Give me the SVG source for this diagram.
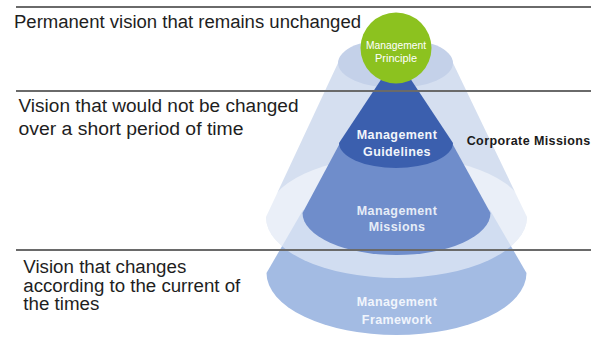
<svg xmlns="http://www.w3.org/2000/svg" width="595" height="337" viewBox="0 0 595 337">
<style>
.lbl{font-family:"Liberation Sans",Arial,sans-serif;font-size:18px;fill:#1e1e1e}
.in{font-family:"Liberation Sans",Arial,sans-serif;font-size:12.5px;font-weight:bold;letter-spacing:0.4px;text-anchor:middle}
.sep{stroke:#6a6a6a;stroke-width:2;fill:none}
</style>
<rect width="595" height="337" fill="#ffffff"/>
<g id="corporate-missions">
  <path d="M338,63 L266,217 A130.5 61 0 0 0 527,217 L453,63 Z" fill="#d5dff0"/>
  <ellipse cx="395.5" cy="63" rx="57.5" ry="25" fill="#c4d1e9"/>
</g>
<g id="framework">
  <path d="M303,210 L266.5,273 A130 62 0 0 0 526.5,273 L490,210 Z" fill="#a3bbe3"/>
</g>
<g id="corporate-missions-base">
  <ellipse cx="396.5" cy="217" rx="130.5" ry="61" fill="#ffffff" fill-opacity="0.5"/>
</g>
<g id="missions">
  <path d="M340,143 L302.5,213 A94 42 0 0 0 490.5,213 L452,143 Z" fill="#6f8dcb"/>
</g>
<g id="guidelines">
  <path d="M396,57 L339,143 A57 25 0 0 0 453,143 Z" fill="#3b5fae"/>
</g>
<g id="principle">
  <circle cx="396" cy="48" r="35.5" fill="#8cc21f"/>
  <text x="396" y="48.5" font-family="'Liberation Sans',Arial,sans-serif" font-size="11.5" fill="#ffffff" text-anchor="middle" textLength="60" lengthAdjust="spacingAndGlyphs">Management</text>
  <text x="396" y="62" font-family="'Liberation Sans',Arial,sans-serif" font-size="11.5" fill="#ffffff" text-anchor="middle" textLength="42" lengthAdjust="spacingAndGlyphs">Principle</text>
</g>
<g id="separators">
  <line class="sep" x1="16" y1="7" x2="591" y2="7"/>
  <line class="sep" x1="16" y1="91" x2="591" y2="91"/>
  <line class="sep" x1="16" y1="250" x2="591" y2="250"/>
</g>
<g id="inner-labels">
  <text class="in" x="397" y="139" fill="#f2f5fb">Management</text>
  <text class="in" x="397" y="156" fill="#f2f5fb">Guidelines</text>
  <text class="in" x="397" y="214.5" fill="#e6ecf7">Management</text>
  <text class="in" x="397" y="231" fill="#e6ecf7">Missions</text>
  <text class="in" x="397" y="306" fill="#f1f5fc">Management</text>
  <text class="in" x="397" y="323.5" fill="#f1f5fc">Framework</text>
  <text x="466.7" y="145" font-family="'Liberation Sans',Arial,sans-serif" font-size="12.5" font-weight="bold" letter-spacing="0.4" fill="#1a1a1a">Corporate Missions</text>
</g>
<g id="side-labels">
  <text class="lbl" x="14" y="28" textLength="347" lengthAdjust="spacingAndGlyphs">Permanent vision that remains unchanged</text>
  <text class="lbl" x="18.5" y="111.5" textLength="280" lengthAdjust="spacingAndGlyphs">Vision that would not be changed</text>
  <text class="lbl" x="18.5" y="134.5" textLength="225" lengthAdjust="spacingAndGlyphs">over a short period of time</text>
  <text class="lbl" x="23.3" y="273" textLength="163" lengthAdjust="spacingAndGlyphs">Vision that changes</text>
  <text class="lbl" x="23.3" y="291.5" textLength="217" lengthAdjust="spacingAndGlyphs">according to the current of</text>
  <text class="lbl" x="23.3" y="310" textLength="76" lengthAdjust="spacingAndGlyphs">the times</text>
</g>
</svg>
